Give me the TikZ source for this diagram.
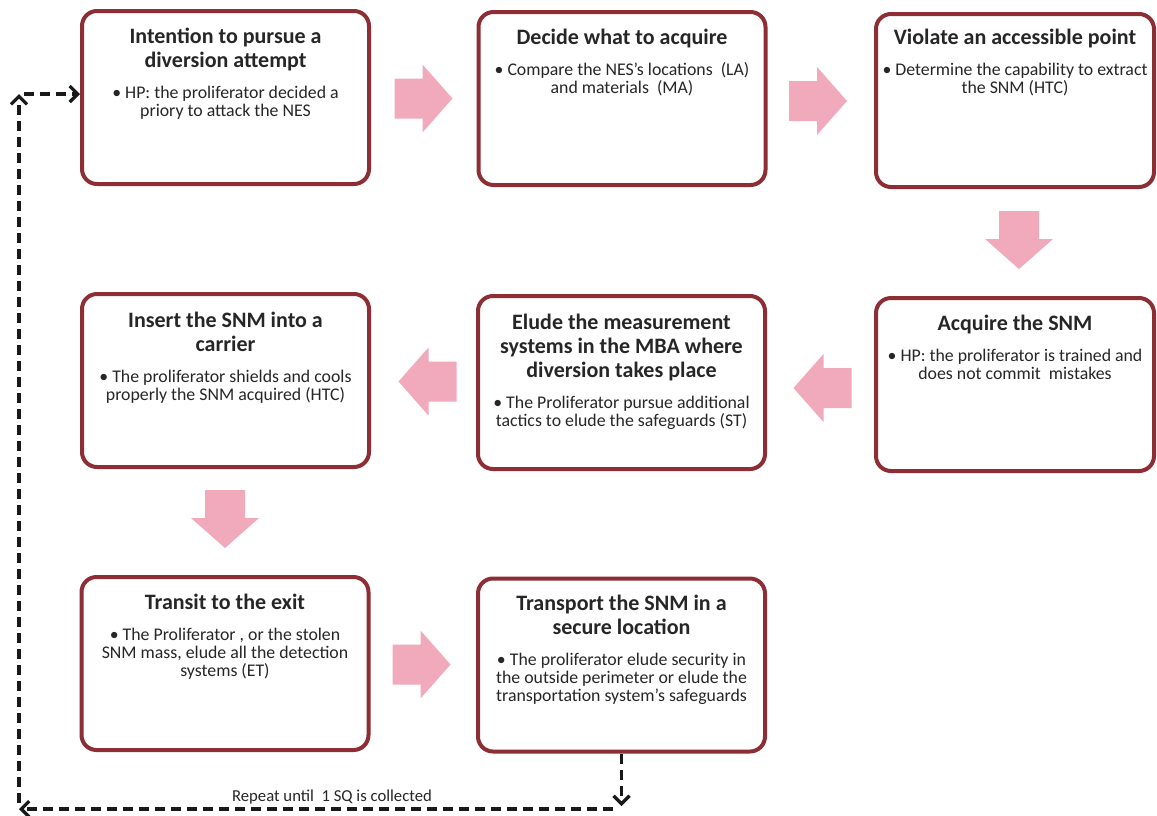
\documentclass[tikz,border=0pt]{standalone}
\usepackage{fontspec}
\setmainfont{Carlito}
\usetikzlibrary{arrows.meta}

\definecolor{boxred}{RGB}{140,46,52}
\definecolor{arrowpink}{RGB}{240,170,187}

\newcommand\ttlfont{\fontsize{22}{24}\selectfont\bfseries}
\newcommand\bodyfont{\fontsize{17.8}{18}\selectfont}
% title and bullet text of one step, baseline at the first title line
\newcommand\steptext[2]{\parbox[t]{300pt}{\parskip=0pt\centering
  {\ttlfont #1\par}\vspace{13pt}{\bodyfont\textbullet\ #2\par}}}

\tikzset{
  stepbox/.style={draw=boxred, line width=4pt, rounded corners=15pt, fill=white,
    minimum width=287pt, minimum height=173pt, inner sep=0pt},
  narrowbox/.style={stepbox, minimum width=278pt},
  steplabel/.style={anchor=base, inner sep=0pt, text=black!85},
  loopline/.style={draw=black!90, line width=3.2pt, dash pattern=on 10pt off 6pt,
    -{Straight Barb[length=8pt,width=16pt]}},
  barrow/.pic={\fill[arrowpink] (-29,-20) -- (-1,-20) -- (-1,-34) -- (29,0)
    -- (-1,34) -- (-1,20) -- (-29,20) -- cycle;}
}

\begin{document}
\begin{tikzpicture}[x=1pt, y=-1pt]
\fill[white] (0,0) rectangle (1157,815);
\useasboundingbox (0,0) rectangle (1157,815);

% step boxes
\node[stepbox]   (b1) at (225.5, 97.5) {};
\node[stepbox]   (b2) at (622, 98.5) {};
\node[narrowbox] (b3) at (1015, 100.5) {};
\node[narrowbox] (b4) at (1015, 384.5) {};
\node[stepbox]   (b5) at (621.5, 382.5) {};
\node[stepbox]   (b6) at (225.5, 380.5) {};
\node[stepbox]   (b7) at (225, 663.5) {};
\node[stepbox]   (b8) at (621.5, 665) {};

% step texts
\node[steplabel] (t1) at ([yshift=-34pt]b1.north)
  {\steptext{Intention to pursue a\\diversion attempt}{HP: the proliferator decided a\\priory to attack the NES}};
\node[steplabel] (t2) at ([yshift=-34pt]b2.north)
  {\steptext{Decide what to acquire}{Compare the NES’s locations~ (LA)\\and materials~ (MA)}};
\node[steplabel] (t3) at ([yshift=-32pt]b3.north)
  {\steptext{Violate an accessible point}{Determine the capability to extract\\the SNM (HTC)}};
\node[steplabel] (t4) at ([yshift=-34pt]b4.north)
  {\steptext{Acquire the SNM}{HP: the proliferator is trained and\\does not commit~ mistakes}};
\node[steplabel] (t5) at ([yshift=-35pt]b5.north)
  {\steptext{Elude the measurement\\systems in the MBA where\\diversion takes place}{The Proliferator pursue additional\\tactics to elude the safeguards (ST)}};
\node[steplabel] (t6) at ([yshift=-35pt]b6.north)
  {\steptext{Insert the SNM into a\\carrier}{The proliferator shields and cools\\properly the SNM acquired (HTC)}};
\node[steplabel] (t7) at ([yshift=-34pt]b7.north)
  {\steptext{Transit to the exit}{The Proliferator , or the stolen\\SNM mass, elude all the detection\\systems (ET)}};
\node[steplabel] (t8) at ([yshift=-34pt]b8.north)
  {\steptext{Transport the SNM in a\\secure location}{The proliferator elude security in\\the outside perimeter or elude the\\transportation system’s safeguards}};

% block arrows between the steps
\pic (a1) at (423.5, 98.5) {barrow};
\pic (a2) at (818, 101) {barrow};
\pic[rotate=-90] (a3) at (1019, 240) {barrow};
\pic[rotate=180] (a4) at (822.5, 388) {barrow};
\pic[rotate=180] (a5) at (427.5, 381.5) {barrow};
\pic[rotate=-90] (a6) at (225, 519) {barrow};
\pic (a7) at (421.5, 664.5) {barrow};

% repeat loop
\coordinate (lbot) at (19, 809);
\coordinate (ltop) at (19, 94);
\draw[loopline] (b8.south) -- ([yshift=3pt]b8.south |- lbot);
\draw[loopline] ([xshift=-9pt]b8.south |- lbot) -- (lbot);
\draw[loopline] ([yshift=6pt]lbot) -- (ltop);
\draw[loopline] ([xshift=5pt]ltop) -- (b1.west |- ltop);
\node[steplabel, font=\fontsize{16.7}{18}\selectfont] (rep) at (332, 801) {Repeat until~ 1 SQ is collected};
\end{tikzpicture}
\end{document}
